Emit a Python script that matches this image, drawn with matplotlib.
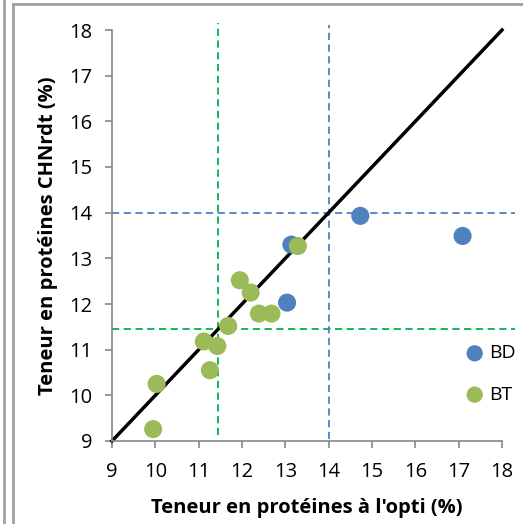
import matplotlib
matplotlib.use("Agg")
from matplotlib import pyplot as plt
from matplotlib.lines import Line2D

plt.rcParams["font.family"] = ["Open Sans", "DejaVu Sans"]

# protein content: optimum (x) vs CHNrdt (y)
bd_x = [13.14, 13.04, 14.73, 17.09]
bd_y = [13.30, 12.03, 13.93, 13.49]

bt_x = [9.95, 10.03, 11.26, 11.12, 11.43, 11.68, 11.95, 12.20, 12.39, 12.68, 13.29]
bt_y = [9.26, 10.25, 10.55, 11.18, 11.08, 11.52, 12.52, 12.25, 11.79, 11.79, 13.27]

bd_threshold = 14.0
bt_threshold = 11.45
ticks = list(range(9, 19))

blue = "#4F81BD"
green = "#9BBB59"
green_line = "#00B050"
grey = "#868686"

fig = plt.figure(figsize=(5.23, 5.24), dpi=100)
ax = fig.add_axes([112 / 523, 83 / 524, 390 / 523, 411 / 524])

# frame around the chart
fig.add_artist(Line2D([4 / 523, 4 / 523], [0, 1], color="#A0A0A0", lw=2))
fig.add_artist(Line2D([12.5 / 523, 12.5 / 523], [0, 520 / 524], color="#A0A0A0", lw=2))
fig.add_artist(Line2D([12.5 / 523, 1], [520 / 524, 520 / 524], color="#A0A0A0", lw=2))

dash = (0, (4, 2.5))
# thresholds
ax.plot([bt_threshold, bt_threshold], [9.13, 18.15], color=green_line, lw=1.3,
        linestyle=dash, clip_on=False, zorder=1)
ax.plot([9, 18.3], [bt_threshold, bt_threshold], color=green_line, lw=1.3,
        linestyle=dash, clip_on=False, zorder=1)
ax.plot([bd_threshold, bd_threshold], [9.05, 18.1], color=blue, lw=1.3,
        linestyle=dash, clip_on=False, zorder=1)
ax.plot([9, 18.3], [bd_threshold, bd_threshold], color=blue, lw=1.3,
        linestyle=dash, clip_on=False, zorder=1)

# 1:1 line
ax.plot([9, 18], [9, 18], color="black", lw=2.5, clip_on=False, zorder=2)

ax.scatter(bd_x, bd_y, s=170, color=blue, edgecolors="none", zorder=3, label="BD",
           clip_on=False)
ax.scatter(bt_x, bt_y, s=170, color=green, edgecolors="none", zorder=4, label="BT",
           clip_on=False)

ax.set_xlim(9, 18)
ax.set_ylim(9, 18)
ax.set_xticks(ticks)
ax.set_yticks(ticks)
ax.tick_params(labelsize=14.5, colors=grey, labelcolor="black", length=5, width=1.2,
               direction="out")
ax.tick_params(axis="y", pad=9)
ax.tick_params(axis="x", pad=10)
for side in ["top", "right"]:
    ax.spines[side].set_visible(False)
for side in ["left", "bottom"]:
    ax.spines[side].set_color(grey)
    ax.spines[side].set_linewidth(1.2)

ax.set_xlabel("Teneur en protéines à l'opti (%)", fontsize=14.5, fontweight="bold",
              labelpad=12)
ax.set_ylabel("Teneur en protéines CHNrdt (%)", fontsize=14.5, fontweight="bold",
              labelpad=8)

ax.legend(loc="upper left", bbox_to_anchor=(0.905, 0.235), frameon=False, fontsize=14,
          handlelength=1.0, handletextpad=0.25, labelspacing=1.2, markerscale=0.9,
          borderaxespad=0, borderpad=0)

fig.savefig("out.png", dpi=100)
